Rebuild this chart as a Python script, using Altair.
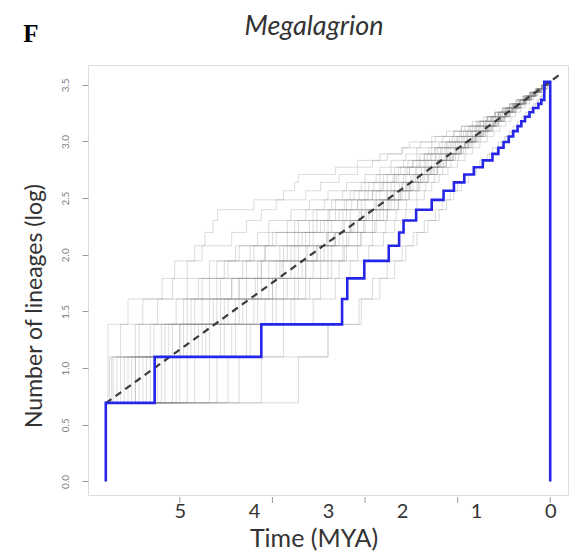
import altair as alt
import pandas as pd
import numpy as np

# ---------------- data ----------------
ROOT_AGE = 6.0

# empirical LTT (blue): time (MYA) at which lineage count becomes n
blue_times = [6.0, 5.34, 3.90, 2.81, 2.74, 2.51, 2.18, 2.04, 1.98, 1.81, 1.60, 1.44,
              1.30, 1.16, 1.03, 0.91, 0.78, 0.70, 0.63, 0.56, 0.50, 0.44, 0.39, 0.34,
              0.28, 0.23, 0.16, 0.12, 0.08]
blue_counts = [2, 3, 4, 5, 6, 7, 8, 9, 10, 11, 12, 13, 14, 15, 16, 17, 18, 19, 20, 21,
               22, 23, 24, 25, 26, 27, 28, 29, 34]

# simulated LTTs (grey): times at which count becomes 3, 4, ..., 34
sim_times = [
    [5.97, 5.97, 5.70, 5.24, 5.07, 4.80, 4.66, 4.55, 4.49, 4.0, 3.6, 3.45, 3.4, 2.9, 2.6, 2.3, 2.0, 1.9, 1.6, 1.3, 1.2, 1.05, 0.9, 0.7, 0.6, 0.45, 0.35, 0.25, 0.2, 0.12, 0.07, 0.03],
    [5.85, 5.55, 5.3, 5.1, 4.9, 4.7, 4.3, 4.1, 3.9, 3.7, 3.3, 3.1, 2.85, 2.6, 2.4, 2.2, 2.0, 1.75, 1.55, 1.4, 1.2, 1.0, 0.85, 0.75, 0.62, 0.5, 0.4, 0.3, 0.22, 0.15, 0.08, 0.02],
    [5.75, 5.6, 4.95, 4.7, 4.5, 4.2, 3.95, 3.8, 3.5, 3.25, 3.0, 2.75, 2.5, 2.3, 2.15, 1.95, 1.8, 1.6, 1.45, 1.3, 1.15, 0.95, 0.8, 0.7, 0.55, 0.45, 0.38, 0.3, 0.2, 0.14, 0.09, 0.04],
    [3.40, 3.0, 2.58, 2.3, 2.1, 2.0, 1.85, 1.7, 1.5, 1.4, 1.3, 1.2, 1.1, 1.0, 0.9, 0.82, 0.72, 0.65, 0.6, 0.52, 0.45, 0.4, 0.35, 0.3, 0.25, 0.2, 0.16, 0.12, 0.09, 0.06, 0.03, 0.01],
    [5.5, 3.0, 2.55, 2.4, 2.2, 1.95, 1.8, 1.65, 1.55, 1.45, 1.35, 1.25, 1.15, 1.05, 0.95, 0.85, 0.78, 0.7, 0.62, 0.55, 0.5, 0.44, 0.38, 0.33, 0.28, 0.23, 0.18, 0.14, 0.1, 0.07, 0.04, 0.02],
    [4.2, 3.9, 3.2, 2.9, 2.7, 2.45, 2.25, 2.1, 1.95, 1.8, 1.7, 1.6, 1.5, 1.38, 1.25, 1.15, 1.05, 0.95, 0.85, 0.76, 0.68, 0.6, 0.53, 0.47, 0.4, 0.34, 0.28, 0.22, 0.17, 0.11, 0.06, 0.02],
    [5.3, 4.6, 4.2, 3.8, 3.3, 3.1, 2.9, 2.6, 2.4, 2.25, 2.05, 1.9, 1.75, 1.6, 1.5, 1.35, 1.2, 1.1, 1.0, 0.9, 0.8, 0.72, 0.63, 0.55, 0.48, 0.4, 0.33, 0.26, 0.2, 0.13, 0.07, 0.02],
    [5.9, 5.0, 4.4, 4.1, 3.6, 3.4, 3.0, 2.7, 2.55, 2.35, 2.15, 2.0, 1.82, 1.68, 1.52, 1.4, 1.28, 1.15, 1.05, 0.95, 0.86, 0.76, 0.68, 0.6, 0.5, 0.42, 0.35, 0.27, 0.2, 0.14, 0.08, 0.03],
    [5.0, 4.8, 4.5, 3.95, 3.7, 3.45, 3.2, 2.95, 2.7, 2.5, 2.3, 2.1, 1.95, 1.8, 1.65, 1.5, 1.38, 1.25, 1.12, 1.0, 0.9, 0.8, 0.7, 0.6, 0.52, 0.44, 0.36, 0.29, 0.22, 0.15, 0.09, 0.03],
    [4.8, 4.4, 4.0, 3.75, 3.5, 3.2, 2.85, 2.65, 2.45, 2.25, 2.1, 1.92, 1.78, 1.62, 1.48, 1.36, 1.24, 1.14, 1.02, 0.93, 0.84, 0.75, 0.66, 0.58, 0.5, 0.42, 0.34, 0.27, 0.2, 0.14, 0.08, 0.04],
    [5.6, 5.2, 4.7, 4.3, 3.9, 3.6, 3.35, 3.1, 2.8, 2.6, 2.4, 2.2, 2.05, 1.9, 1.7, 1.55, 1.42, 1.3, 1.18, 1.06, 0.96, 0.86, 0.77, 0.67, 0.58, 0.49, 0.41, 0.33, 0.25, 0.17, 0.1, 0.04],
    [5.2, 4.1, 3.85, 3.55, 3.3, 3.05, 2.75, 2.5, 2.3, 2.15, 2.0, 1.85, 1.7, 1.56, 1.44, 1.32, 1.2, 1.08, 0.98, 0.88, 0.79, 0.7, 0.62, 0.54, 0.46, 0.39, 0.32, 0.25, 0.18, 0.12, 0.07, 0.02],
    [5.8, 5.4, 4.9, 4.6, 4.4, 4.0, 3.7, 3.4, 3.15, 2.9, 2.65, 2.45, 2.25, 2.05, 1.85, 1.7, 1.55, 1.4, 1.25, 1.12, 1.0, 0.88, 0.78, 0.68, 0.58, 0.5, 0.41, 0.33, 0.25, 0.18, 0.11, 0.05],
    [4.5, 4.3, 3.6, 3.4, 3.1, 2.8, 2.6, 2.4, 2.25, 2.1, 1.95, 1.8, 1.66, 1.52, 1.4, 1.28, 1.17, 1.06, 0.96, 0.87, 0.78, 0.7, 0.62, 0.55, 0.47, 0.4, 0.33, 0.26, 0.19, 0.12, 0.06, 0.02],
    [5.4, 4.95, 4.25, 3.9, 3.65, 3.3, 3.0, 2.8, 2.55, 2.35, 2.2, 2.0, 1.85, 1.7, 1.56, 1.42, 1.3, 1.2, 1.08, 0.98, 0.88, 0.78, 0.7, 0.61, 0.53, 0.45, 0.37, 0.3, 0.22, 0.15, 0.09, 0.03],
    [5.95, 5.8, 5.5, 4.9, 4.6, 4.25, 3.8, 3.55, 3.3, 3.05, 2.8, 2.55, 2.35, 2.15, 1.98, 1.8, 1.64, 1.5, 1.36, 1.22, 1.1, 0.98, 0.86, 0.75, 0.65, 0.55, 0.46, 0.37, 0.28, 0.2, 0.12, 0.05],
    [5.1, 4.65, 3.5, 3.25, 2.95, 2.75, 2.55, 2.35, 2.2, 2.05, 1.9, 1.76, 1.64, 1.52, 1.4, 1.3, 1.2, 1.1, 1.0, 0.9, 0.81, 0.73, 0.65, 0.57, 0.5, 0.43, 0.36, 0.29, 0.22, 0.15, 0.09, 0.04],
    [5.65, 5.15, 4.85, 4.45, 4.15, 3.85, 3.55, 3.25, 3.0, 2.75, 2.5, 2.3, 2.12, 1.96, 1.8, 1.66, 1.52, 1.38, 1.26, 1.14, 1.02, 0.9, 0.8, 0.7, 0.6, 0.51, 0.42, 0.34, 0.26, 0.18, 0.11, 0.05],
    [3.9, 3.6, 3.45, 3.1, 2.85, 2.6, 2.4, 2.22, 2.08, 1.94, 1.8, 1.68, 1.56, 1.45, 1.34, 1.24, 1.14, 1.04, 0.94, 0.85, 0.77, 0.69, 0.61, 0.54, 0.46, 0.39, 0.32, 0.25, 0.18, 0.12, 0.06, 0.02],
    [5.55, 5.25, 5.05, 4.75, 4.35, 4.05, 3.75, 3.45, 3.2, 2.95, 2.7, 2.5, 2.3, 2.1, 1.92, 1.76, 1.6, 1.46, 1.32, 1.2, 1.08, 0.96, 0.85, 0.74, 0.64, 0.54, 0.45, 0.36, 0.27, 0.19, 0.12, 0.05],
    [5.45, 4.75, 4.15, 3.75, 3.4, 3.15, 2.9, 2.7, 2.5, 2.3, 2.12, 1.95, 1.8, 1.66, 1.52, 1.4, 1.27, 1.16, 1.05, 0.95, 0.85, 0.76, 0.67, 0.59, 0.51, 0.43, 0.35, 0.28, 0.21, 0.14, 0.08, 0.03],
    [5.7, 5.35, 4.55, 4.2, 3.95, 3.55, 3.25, 3.0, 2.75, 2.55, 2.35, 2.15, 1.98, 1.82, 1.68, 1.54, 1.4, 1.28, 1.16, 1.05, 0.94, 0.84, 0.74, 0.65, 0.56, 0.48, 0.4, 0.32, 0.24, 0.16, 0.1, 0.04],
    [4.9, 4.45, 4.1, 3.6, 3.35, 3.0, 2.8, 2.6, 2.4, 2.2, 2.02, 1.88, 1.72, 1.58, 1.46, 1.34, 1.22, 1.12, 1.02, 0.92, 0.83, 0.74, 0.65, 0.57, 0.49, 0.41, 0.34, 0.27, 0.2, 0.13, 0.07, 0.03],
    [5.25, 5.0, 4.6, 4.3, 3.8, 3.5, 3.3, 3.05, 2.85, 2.6, 2.4, 2.25, 2.08, 1.9, 1.75, 1.6, 1.46, 1.33, 1.2, 1.08, 0.97, 0.87, 0.77, 0.68, 0.59, 0.5, 0.42, 0.34, 0.26, 0.18, 0.11, 0.04],
    [5.92, 4.85, 4.35, 3.98, 3.62, 3.28, 3.02, 2.78, 2.58, 2.38, 2.2, 2.04, 1.88, 1.74, 1.6, 1.47, 1.35, 1.23, 1.12, 1.01, 0.91, 0.82, 0.73, 0.64, 0.56, 0.48, 0.4, 0.32, 0.24, 0.16, 0.09, 0.03],
    [4.6, 4.25, 3.7, 3.45, 3.2, 2.95, 2.72, 2.52, 2.34, 2.18, 2.03, 1.89, 1.75, 1.62, 1.5, 1.38, 1.26, 1.15, 1.04, 0.94, 0.85, 0.76, 0.67, 0.59, 0.51, 0.43, 0.36, 0.29, 0.22, 0.15, 0.09, 0.04],
    [5.35, 5.1, 4.8, 4.5, 4.1, 3.85, 3.45, 3.2, 2.98, 2.78, 2.58, 2.38, 2.2, 2.02, 1.86, 1.7, 1.56, 1.42, 1.29, 1.17, 1.05, 0.94, 0.84, 0.74, 0.64, 0.55, 0.46, 0.37, 0.28, 0.2, 0.12, 0.05],
    [5.05, 4.7, 3.95, 3.7, 3.45, 3.15, 2.92, 2.68, 2.48, 2.28, 2.1, 1.94, 1.79, 1.65, 1.51, 1.39, 1.27, 1.16, 1.06, 0.96, 0.86, 0.77, 0.68, 0.6, 0.52, 0.44, 0.36, 0.28, 0.21, 0.14, 0.08, 0.03],
    [5.6, 4.9, 4.45, 4.2, 3.9, 3.65, 3.4, 3.15, 2.9, 2.68, 2.46, 2.27, 2.1, 1.93, 1.77, 1.62, 1.48, 1.35, 1.23, 1.11, 1.0, 0.9, 0.8, 0.7, 0.61, 0.52, 0.43, 0.35, 0.27, 0.19, 0.11, 0.04],
    [4.35, 4.05, 3.75, 3.3, 3.0, 2.78, 2.56, 2.37, 2.2, 2.05, 1.91, 1.78, 1.65, 1.53, 1.42, 1.31, 1.21, 1.11, 1.01, 0.92, 0.83, 0.75, 0.67, 0.59, 0.51, 0.44, 0.37, 0.3, 0.23, 0.16, 0.1, 0.04],
]

# expected (pure-birth) dashed line
dash_times = [6.0, -0.15]
dash_vals = [0.69, 3.60]

x_label_values = [0, 1, 2, 3, 4, 5]
x_tick_marks = [0, 1.25, 2.5, 3.75, 5]
y_label_values = [0.0, 0.5, 1.0, 1.5, 2.0, 2.5, 3.0, 3.5]

title_text = "Megalagrion"
panel_letter = "F"
x_title = "Time (MYA)"
y_title = "Number of lineages (log)"

# ---------------- tables ----------------
blue_rows = [{"t": ROOT_AGE, "y": 0.0, "i": 0}]
for k, (t, n) in enumerate(zip(blue_times, blue_counts)):
    blue_rows.append({"t": t, "y": float(np.log(n)), "i": k + 1})
blue_rows.append({"t": 0.0, "y": float(np.log(blue_counts[-1])), "i": len(blue_rows)})
blue_rows.append({"t": 0.0, "y": 0.0, "i": len(blue_rows)})
blue_df = pd.DataFrame(blue_rows)

sim_rows = []
for s, times in enumerate(sim_times):
    sim_rows.append({"sim": s, "t": ROOT_AGE, "y": float(np.log(2)), "i": 0})
    for k, t in enumerate(times):
        sim_rows.append({"sim": s, "t": t, "y": float(np.log(k + 3)), "i": k + 1})
    sim_rows.append({"sim": s, "t": 0.0, "y": float(np.log(len(times) + 2)), "i": len(times) + 1})
sim_df = pd.DataFrame(sim_rows)

dash_df = pd.DataFrame({"t": dash_times, "y": dash_vals})
tick_df = pd.DataFrame({"t": x_tick_marks})

W, H = 480, 430
FONT = "Lato"

x_scale = alt.Scale(domain=[6.24, -0.24], nice=False, zero=False)
y_scale = alt.Scale(domain=[-0.12, 3.675], nice=False, zero=False)
x_axis = alt.Axis(values=x_label_values, format="d", title=None, grid=False,
                  domain=False, ticks=False, labelFontSize=20, labelColor="#333333",
                  labelFont=FONT, labelPadding=6, labelFlush=False)
y_axis = alt.Axis(values=y_label_values, format=".1f", title=None, grid=False,
                  domain=False, ticks=True, tickSize=6, tickColor="#9a9a9a",
                  labelAngle=270, labelAlign="center", labelBaseline="bottom",
                  labelFontSize=10, labelColor="#808080", labelFont=FONT,
                  labelPadding=12, labelFlush=False)

X = alt.X("t:Q", scale=x_scale, axis=x_axis)
Y = alt.Y("y:Q", scale=y_scale, axis=y_axis)

grey = alt.Chart(sim_df).mark_line(
    interpolate="step-after", strokeWidth=1, color="#8c8c8c", opacity=0.3
).encode(x=X, y=Y, detail="sim:N", order="i:Q")

dashed = alt.Chart(dash_df).mark_line(
    strokeDash=[7, 5], strokeWidth=2.2, color="#3a3a3a"
).encode(x=X, y=Y)

blue = alt.Chart(blue_df).mark_line(
    interpolate="step-after", strokeWidth=2.6, color="#2626e8"
).encode(x=X, y=Y, order="i:Q")

xticks = alt.Chart(tick_df).mark_rule(color="#9a9a9a", strokeWidth=1).encode(
    x=X, y=alt.value(H + 2), y2=alt.value(H + 8)
)

def label(text, **kw):
    return alt.Chart(pd.DataFrame({"s": [text]})).mark_text(**kw).encode(text="s:N")

title = label(title_text, font=FONT, fontSize=27, fontStyle="italic", color="#333333",
              align="center", baseline="alphabetic").encode(
    x=alt.value(226), y=alt.value(-30))
letter = label(panel_letter, font="Liberation Serif", fontSize=25, fontWeight="bold",
               color="#000000", align="center", baseline="alphabetic").encode(
    x=alt.value(-57), y=alt.value(-23))
xt = label(x_title, font=FONT, fontSize=25, color="#333333", align="center",
           baseline="alphabetic").encode(x=alt.value(226), y=alt.value(H + 52))
yt = label(y_title, font=FONT, fontSize=23, color="#333333", align="center",
           baseline="middle", angle=270).encode(x=alt.value(-53), y=alt.value(241))

chart = alt.layer(grey, dashed, blue, xticks, title, letter, xt, yt).properties(
    width=W, height=H,
    autosize=alt.AutoSizeParams(type="none"),
    padding={"left": 88, "top": 65, "right": 7, "bottom": 64},
).configure_view(stroke="#a6a6a6", strokeWidth=1.5).configure(background="white")

chart.save("out.html", embed_options={"renderer": "svg", "actions": False})
